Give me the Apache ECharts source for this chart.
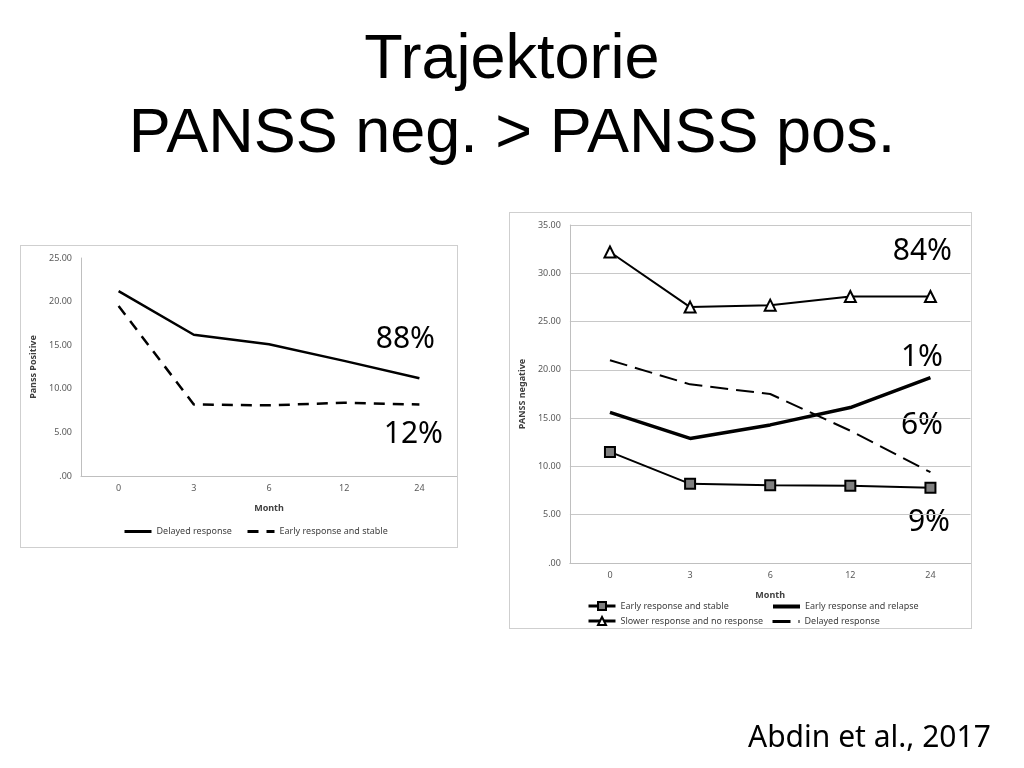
<!DOCTYPE html>
<html>
<head>
<meta charset="utf-8">
<script src="https://cdn.jsdelivr.net/npm/echarts@6/dist/echarts.min.js"></script>
<style>
  html, body { margin: 0; padding: 0; background: #fff; }
  #page { position: absolute; left: 0; top: 0; width: 1024px; height: 768px; }
  .box { position: absolute; box-sizing: border-box; border: 1px solid #cfcfcf; background: #fff; }
  #left { left: 20px; top: 245px; width: 438px; height: 303px; }
  #right { left: 509px; top: 212px; width: 463px; height: 417px; }
</style>
</head>
<body>
<div id="page"></div>
<div id="left" class="box"></div>
<div id="right" class="box"></div>
<script>
// months on the x axis (same for both charts)
const months = ['0', '3', '6', '12', '24']

// left chart: PANSS positive
const posDelayed = [21.2, 16.2, 15.1, 13.2, 11.2]
const posEarlyStable = [19.5, 8.2, 8.1, 8.4, 8.2]
const posShares = ['88%', '12%']

// right chart: PANSS negative
const negEarlyStable = [11.5, 8.2, 8.05, 8.0, 7.8]
const negEarlyRelapse = [15.6, 12.9, 14.3, 16.1, 19.2]
const negSlower = [32.2, 26.5, 26.7, 27.6, 27.6]
const negDelayed = [21.0, 18.5, 17.5, 13.7, 9.4]
const negShares = ['84%', '1%', '6%', '9%']

const sans = 'Noto Sans'
const axisGray = '#bfbfbf'
const labelColor = '#595959'

function fmt(v) {
  return v === 0 ? '.00' : v.toFixed(2)
}

// slide title + citation
const page = echarts.init(document.getElementById('page'))
page.setOption({
  graphic: [
    { type: 'text', x: 512, y: 61, style: { text: 'Trajektorie', font: '63px "Liberation Sans"', fill: '#000', align: 'center', verticalAlign: 'middle' } },
    { type: 'text', x: 512, y: 135, style: { text: 'PANSS neg. > PANSS pos.', font: '63px "Liberation Sans"', fill: '#000', align: 'center', verticalAlign: 'middle' } },
    { type: 'text', x: 748, y: 738, style: { text: 'Abdin et al., 2017', font: '30px "Noto Sans"', fill: '#000', align: 'left', verticalAlign: 'middle' } },
  ],
})

function baseAxes(max, nameY, split) {
  return {
    xAxis: {
      type: 'category',
      data: months,
      boundaryGap: true,
      name: 'Month',
      nameLocation: 'middle',
      nameGap: 28,
      nameTextStyle: { fontFamily: sans, fontSize: 9, fontWeight: 'bold', color: '#404040' },
      axisLine: { lineStyle: { color: axisGray } },
      axisTick: { show: false },
      axisLabel: { fontFamily: sans, fontSize: 9, color: labelColor, margin: 8 },
    },
    yAxis: {
      type: 'value',
      min: 0,
      max: max,
      interval: 5,
      name: nameY,
      nameLocation: 'middle',
      nameGap: 40,
      nameTextStyle: { fontFamily: sans, fontSize: 9, fontWeight: 'bold', color: '#404040' },
      axisLine: { show: true, lineStyle: { color: axisGray } },
      axisTick: { show: false },
      axisLabel: { fontFamily: sans, fontSize: 9, color: labelColor, margin: 9, formatter: fmt },
      splitLine: { show: split, lineStyle: { color: '#c8c8c8' } },
    },
  }
}

const legendText = { fontFamily: sans, fontSize: 9, color: '#404040' }

// one legend per item so every entry sits where the reference has it
function legendItem(name, left, top, lineOnly, lineWidth) {
  const l = {
    left: left, top: top, itemWidth: 27, itemHeight: 10, itemGap: 0,
    textStyle: legendText, lineStyle: { width: lineWidth }, data: [name],
  }
  if (lineOnly) l.itemStyle = { opacity: 0 }
  return l
}

// left chart
const left = echarts.init(document.getElementById('left'))
left.setOption(Object.assign({
  animation: false,
  grid: { left: 60, top: 12, width: 390, height: 218 },
  legend: [
    legendItem('Delayed response', 97, 276, true, 3),
    legendItem('Early response and stable', 220, 276, true, 3),
  ],
  series: [
    { name: 'Delayed response', type: 'line', data: posDelayed, symbol: 'none', lineStyle: { color: '#000', width: 2.5 }, itemStyle: { color: '#000' } },
    { name: 'Early response and stable', type: 'line', data: posEarlyStable, symbol: 'none', lineStyle: { color: '#000', width: 2.5, type: [11, 8] }, itemStyle: { color: '#000' } },
  ],
  graphic: [
    { type: 'text', x: 435 - 21, y: 339 - 246, style: { text: posShares[0], font: '30px "Noto Sans"', fill: '#000', align: 'right', verticalAlign: 'middle' } },
    { type: 'text', x: 443 - 21, y: 434 - 246, style: { text: posShares[1], font: '30px "Noto Sans"', fill: '#000', align: 'right', verticalAlign: 'middle' } },
  ],
}, baseAxes(25, 'Panss Positive', false)))

// right chart
const right = echarts.init(document.getElementById('right'))
right.setOption(Object.assign({
  animation: false,
  grid: { left: 53, top: 12, width: 407.5, height: 338 },
  legend: [
    legendItem('Early response and stable', 72, 383, false, 3),
    legendItem('Slower response and no response', 72, 398, false, 3),
    legendItem('Early response and relapse', 256, 384, true, 4),
    legendItem('Delayed response', 256, 399, true, 3),
  ],
  series: [
    {
      name: 'Early response and stable', type: 'line', data: negEarlyStable,
      symbol: 'rect', symbolSize: 10,
      lineStyle: { color: '#000', width: 2 },
      itemStyle: { color: '#808080', borderColor: '#000', borderWidth: 2 },
    },
    {
      name: 'Early response and relapse', type: 'line', data: negEarlyRelapse, symbol: 'none',
      lineStyle: { color: '#000', width: 3.5 }, itemStyle: { color: '#000' },
    },
    {
      name: 'Slower response and no response', type: 'line', data: negSlower,
      symbol: 'triangle', symbolSize: 11,
      lineStyle: { color: '#000', width: 2 },
      itemStyle: { color: '#fff', borderColor: '#000', borderWidth: 2 },
    },
    {
      name: 'Delayed response', type: 'line', data: negDelayed, symbol: 'none',
      lineStyle: { color: '#000', width: 2, type: [18, 8] }, itemStyle: { color: '#000' },
    },
  ],
  graphic: [
    { type: 'text', x: 952 - 510, y: 251 - 213, style: { text: negShares[0], font: '30px "Noto Sans"', fill: '#000', align: 'right', verticalAlign: 'middle' } },
    { type: 'text', x: 943 - 510, y: 357 - 213, style: { text: negShares[1], font: '30px "Noto Sans"', fill: '#000', align: 'right', verticalAlign: 'middle' } },
    { type: 'text', x: 943 - 510, y: 425 - 213, style: { text: negShares[2], font: '30px "Noto Sans"', fill: '#000', align: 'right', verticalAlign: 'middle' } },
    { type: 'text', x: 950 - 510, y: 522 - 213, style: { text: negShares[3], font: '30px "Noto Sans"', fill: '#000', align: 'right', verticalAlign: 'middle' } },
  ],
}, baseAxes(35, 'PANSS negative', true)))
</script>
</body>
</html>
